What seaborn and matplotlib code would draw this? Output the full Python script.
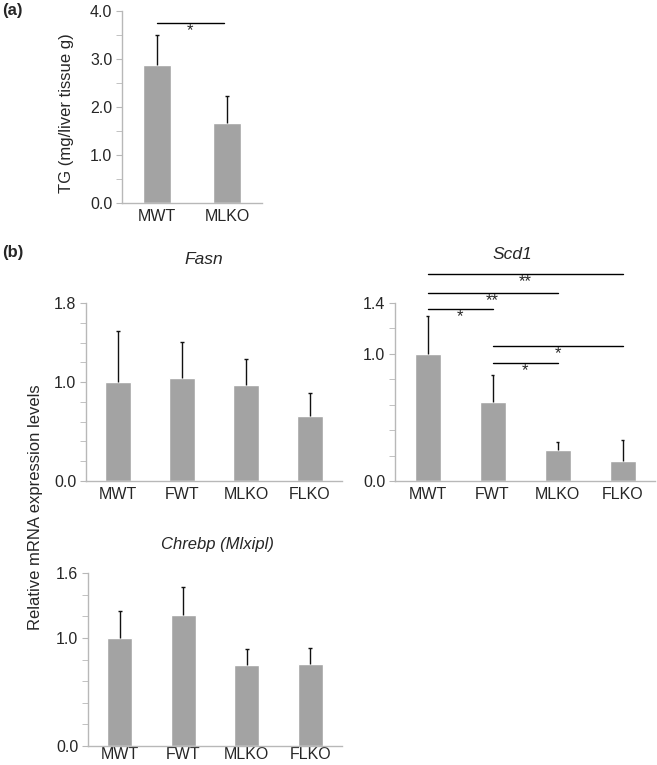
import numpy as np
import pandas as pd
import matplotlib
matplotlib.use("Agg")
import matplotlib.pyplot as plt
import seaborn as sns

# 數據
groups_a = ["MWT", "MLKO"]
tg_mean = [2.88, 1.66]
tg_err = [0.62, 0.56]

groups_b = ["MWT", "FWT", "MLKO", "FLKO"]
fasn_mean = [1.00, 1.04, 0.97, 0.66]
fasn_err = [0.52, 0.37, 0.26, 0.23]
scd1_mean = [1.00, 0.62, 0.245, 0.16]
scd1_err = [0.30, 0.21, 0.065, 0.16]
chrebp_mean = [1.00, 1.21, 0.75, 0.755]
chrebp_err = [0.25, 0.26, 0.15, 0.155]

# 顯著性標記 (起點, 終點, 高度, 標記)
scd1_sig = [(0, 3, 1.63, "**"), (0, 2, 1.48, "**"), (0, 1, 1.35, "*"),
            (1, 3, 1.063, "*"), (1, 2, 0.93, "*")]
tg_sig = [(0, 0.95, 3.75, "*")]

sns.set_style("white")
plt.rcParams['font.family'] = ['Liberation Sans', 'DejaVu Sans']

BAR = "#a3a3a3"
SPINE = "#b8b8b8"
W, H = 657, 765

fig = plt.figure(figsize=(W / 100, H / 100), dpi=100)


def make_ax(left, right, top, bottom):
    return fig.add_axes([left / W, 1 - bottom / H, (right - left) / W, (bottom - top) / H])


def draw_bars(ax, groups, means, errs, ylim, labels, minor_step, xpad=4):
    df = pd.DataFrame({"group": groups, "value": means})
    sns.barplot(data=df, x="group", y="value", color=BAR, width=0.4,
                saturation=1, errorbar=None, ax=ax)
    x = np.arange(len(groups))
    tops = np.array(means) + np.array(errs)
    # 只畫上方誤差線
    ax.vlines(x, means, tops, color="#111111", lw=1.0)
    ax.hlines(tops, x - 0.03, x + 0.03, color="#111111", lw=1.0)
    ax.set_xlim(-0.5, len(groups) - 0.5)
    ax.set_ylim(0, ylim)
    ax.set_xlabel("")
    ax.set_ylabel("")
    for s in ["top", "right"]:
        ax.spines[s].set_visible(False)
    for s in ["left", "bottom"]:
        ax.spines[s].set_color(SPINE)
        ax.spines[s].set_linewidth(1.0)
    ax.set_yticks(labels)
    ax.set_yticklabels([f"{v:.1f}" for v in labels])
    ax.set_yticks(np.arange(0, ylim + 1e-6, minor_step), minor=True)
    ax.set_xticks(x)
    ax.set_xticklabels(groups)
    ax.set_xticks(np.arange(-0.5, len(groups), 1.0), minor=True)
    ax.tick_params(axis="x", which="major", length=0, labelsize=11.5, pad=xpad)
    ax.tick_params(axis="x", which="minor", length=4, color=SPINE, direction="out")
    ax.tick_params(axis="y", which="both", length=4, color=SPINE, direction="out",
                   labelsize=11.5, pad=3, left=True)


def draw_sig(ax, sigs):
    for a, b, h, mark in sigs:
        ax.plot([a, b], [h, h], color="black", lw=1.0, clip_on=False)
        ax.text((a + b) / 2, h, mark, ha="center", va="top", fontsize=12, clip_on=False)


# (a) TG
ax_a = make_ax(122, 262, 11, 203)
draw_bars(ax_a, groups_a, tg_mean, tg_err, 4.0, [0, 1, 2, 3, 4], 0.5)
draw_sig(ax_a, tg_sig)

# (b) Fasn
ax_f = make_ax(86, 342, 303, 481)
draw_bars(ax_f, groups_b, fasn_mean, fasn_err, 1.8, [0, 1.0, 1.8], 0.2)

# Scd1
ax_s = make_ax(395, 655, 303, 481)
draw_bars(ax_s, groups_b, scd1_mean, scd1_err, 1.4, [0, 1.0, 1.4], 0.2)
draw_sig(ax_s, scd1_sig)

# Chrebp
ax_c = make_ax(88, 342, 573, 746)
draw_bars(ax_c, groups_b, chrebp_mean, chrebp_err, 1.6, [0, 1.0, 1.6], 0.2, xpad=1)

# 標題與標籤
fig.text(204 / W, 1 - 260 / H, "Fasn", ha="center", va="center", fontsize=12.5, style="italic")
fig.text(512 / W, 1 - 255 / H, "Scd1", ha="center", va="center", fontsize=12.5, style="italic")
fig.text(217 / W, 1 - 545 / H, "Chrebp (Mlxipl)", ha="center", va="center", fontsize=12,
         style="italic")
fig.text(67 / W, 1 - 113 / H, "TG (mg/liver tissue g)", ha="center", va="center",
         rotation=90, fontsize=12)
fig.text(36 / W, 1 - 507 / H, "Relative mRNA expression levels", ha="center", va="center",
         rotation=90, fontsize=12)
fig.text(2 / W, 1 - 10 / H, "(a)", ha="left", va="center", fontsize=12, weight="bold")
fig.text(2 / W, 1 - 252 / H, "(b)", ha="left", va="center", fontsize=12, weight="bold")

fig.savefig("out.png", dpi=100, facecolor="white")
